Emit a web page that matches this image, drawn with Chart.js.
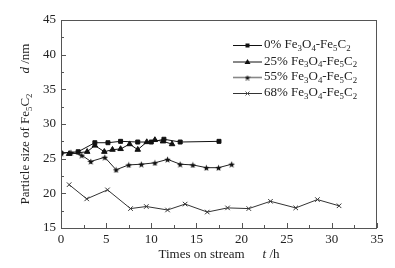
<!DOCTYPE html>
<html lang="en">
  <head>
    <meta charset="UTF-8" />
    <script src="https://cdn.jsdelivr.net/npm/chart.js@4.4.1/dist/chart.umd.min.js"></script>
    <title>Fe5C2 particle size</title>
    <style>
      html,
      body {
        margin: 0;
        padding: 0;
        background: #fff;
      }
      .wrap {
        width: 395px;
        height: 268px;
      }
    </style>
  </head>
  <body>
    <div class="wrap"><canvas id="myChart" width="395" height="268"></canvas></div>
    <script>
      // data
      const t0 = [0, 1.9, 3.75, 5.2, 6.6, 8.5, 10, 11.4, 13.2, 17.5];
      const d0 = [25.8, 26.0, 27.3, 27.3, 27.5, 27.4, 27.4, 27.8, 27.4, 27.5];
      const t25 = [0.9, 2.9, 3.75, 4.8, 5.7, 6.6, 7.6, 8.5, 9.5, 10.4, 11.3, 12.3];
      const d25 = [25.7, 26.0, 26.9, 26.0, 26.3, 26.4, 27.1, 26.3, 27.4, 27.7, 27.5, 27.1];
      const t55 = [0, 1.1, 2.3, 3.3, 4.85, 6.1, 7.5, 8.9, 10.4, 11.8, 13.2, 14.6, 16.1, 17.45, 18.9];
      const d55 = [25.8, 25.9, 25.5, 24.6, 25.2, 23.4, 24.1, 24.2, 24.4, 24.9, 24.2, 24.1, 23.7, 23.7, 24.2];
      const t68 = [0.9, 2.85, 5.15, 7.7, 9.45, 11.8, 13.75, 16.2, 18.45, 20.8, 23.2, 26.0, 28.4, 30.8];
      const d68 = [21.25, 19.2, 20.5, 17.8, 18.1, 17.6, 18.45, 17.3, 17.9, 17.8, 18.85, 17.9, 19.1, 18.2];
      const shares = ["0%", "25%", "55%", "68%"];
      const xTicks = [0, 5, 10, 15, 20, 25, 30, 35];
      const yTicks = [15, 20, 25, 30, 35, 40, 45];

      const SERIF = "'Liberation Serif', 'Times New Roman', serif";

      function pts(ts, ds) {
        return ts.map((t, i) => ({ x: t, y: ds[i] }));
      }

      // filled five point star for the 55% series
      function starImg(size, color) {
        const c = document.createElement("canvas");
        c.width = size;
        c.height = size;
        const g = c.getContext("2d");
        const r = size / 2, ri = r * 0.42;
        g.beginPath();
        for (let i = 0; i < 10; i++) {
          const rr = i % 2 ? ri : r;
          const a = -Math.PI / 2 + (i * Math.PI) / 5;
          g.lineTo(r + rr * Math.cos(a), r + 0.5 + rr * Math.sin(a));
        }
        g.closePath();
        g.fillStyle = color;
        g.fill();
        return c;
      }
      const star = starImg(7, "#111");
      const starSmall = starImg(6, "#111");

      const series = [
        { data: pts(t0, d0), color: "#111", point: "rect", r: 2.8 },
        { data: pts(t25, d25), color: "#111", point: "triangle", r: 3.2 },
        { data: pts(t55, d55), color: "#222", point: star, r: 3.5 },
        { data: pts(t68, d68), color: "#333", point: "crossRot", r: 3.2 },
      ];

      // text with subscripts / italics, drawn left to right from x
      function richWidth(ctx, parts, size) {
        let w = 0;
        parts.forEach((p) => {
          if (p.gap) { w += p.gap; return; }
          ctx.font = (p.it ? "italic " : "") + (p.sub ? size * 0.68 : size) + "px " + SERIF;
          w += ctx.measureText(p.t).width;
        });
        return w;
      }
      function drawRich(ctx, x, y, parts, size) {
        parts.forEach((p) => {
          if (p.gap) { x += p.gap; return; }
          ctx.font = (p.it ? "italic " : "") + (p.sub ? size * 0.68 : size) + "px " + SERIF;
          ctx.fillText(p.t, x, p.sub ? y + size * 0.28 : y);
          x += ctx.measureText(p.t).width;
        });
      }
      function feLabel(share) {
        return [
          { t: share + " Fe" }, { t: "3", sub: 1 }, { t: "O" }, { t: "4", sub: 1 },
          { t: "-Fe" }, { t: "5", sub: 1 }, { t: "C" }, { t: "2", sub: 1 },
        ];
      }

      const decor = {
        id: "decor",
        afterDraw(chart) {
          const { ctx, chartArea: a, scales } = chart;
          ctx.save();
          // frame
          ctx.strokeStyle = "#555";
          ctx.lineWidth = 1;
          ctx.strokeRect(a.left + 0.5, a.top + 0.5, a.right - a.left - 1, a.bottom - a.top);
          // inward ticks, major and minor
          ctx.beginPath();
          for (let v = 0; v <= 35; v += 2.5) {
            const px = Math.round(scales.x.getPixelForValue(v)) + 0.5;
            const len = v % 5 === 0 ? 5 : 3;
            ctx.moveTo(px, a.bottom);
            ctx.lineTo(px, a.bottom - len);
          }
          for (let v = 15; v <= 45; v += 2.5) {
            const py = Math.round(scales.y.getPixelForValue(v)) + 0.5;
            const len = v % 5 === 0 ? 5 : 3;
            ctx.moveTo(a.left, py);
            ctx.lineTo(a.left + len, py);
          }
          ctx.stroke();

          ctx.fillStyle = "#222";
          ctx.textBaseline = "middle";
          // x title
          const xt = [{ t: "Times on stream" }, { gap: 18 }, { t: "t", it: 1 }, { t: " /h" }];
          const xw = richWidth(ctx, xt, 13);
          drawRich(ctx, (a.left + a.right) / 2 - xw / 2, 255, xt, 13);
          // y title
          const yt = [
            { t: "Particle size of Fe" }, { t: "5", sub: 1 }, { t: "C" }, { t: "2", sub: 1 },
            { gap: 20 }, { t: "d", it: 1 }, { t: " /nm" },
          ];
          const yw = richWidth(ctx, yt, 13);
          ctx.save();
          ctx.translate(26, (a.top + a.bottom) / 2);
          ctx.rotate(-Math.PI / 2);
          drawRich(ctx, -yw / 2, 0, yt, 13);
          ctx.restore();

          // legend: line with marker, then label
          const rows = [45, 61.5, 77, 93];
          series.forEach((s, i) => {
            const y = rows[i] + 0.5;
            const cx = 247.5;
            ctx.strokeStyle = i === 2 ? "#888" : s.color;
            ctx.lineWidth = i === 2 ? 1.6 : 1;
            ctx.beginPath();
            ctx.moveTo(233, y);
            ctx.lineTo(262, y);
            ctx.stroke();
            ctx.fillStyle = "#111";
            ctx.strokeStyle = "#555";
            ctx.lineWidth = 1;
            if (i === 0) {
              ctx.fillRect(cx - 2, y - 2, 4, 4);
            } else if (i === 1) {
              ctx.beginPath();
              ctx.moveTo(cx, y - 3);
              ctx.lineTo(cx + 3, y + 2);
              ctx.lineTo(cx - 3, y + 2);
              ctx.closePath();
              ctx.fill();
            } else if (i === 2) {
              ctx.drawImage(starSmall, cx - 3, y - 3);
            } else {
              ctx.beginPath();
              ctx.moveTo(cx - 2, y - 2);
              ctx.lineTo(cx + 2, y + 2);
              ctx.moveTo(cx + 2, y - 2);
              ctx.lineTo(cx - 2, y + 2);
              ctx.stroke();
            }
            ctx.fillStyle = "#222";
            drawRich(ctx, 264, rows[i], feLabel(shares[i]), 13);
          });
          ctx.restore();
        },
      };

      const ctx = document.getElementById("myChart");
      new Chart(ctx, {
        type: "scatter",
        data: {
          datasets: series.map((s, i) => ({
            label: shares[i],
            data: s.data,
            showLine: true,
            borderColor: s.color,
            backgroundColor: s.color,
            borderWidth: 1,
            pointStyle: s.point,
            pointRadius: s.r,
            pointBorderWidth: 1,
          })),
        },
        plugins: [decor],
        options: {
          responsive: false,
          animation: false,
          layout: { padding: { left: 0, top: 20, right: 18, bottom: 0 } },
          plugins: { legend: { display: false }, tooltip: { enabled: false } },
          scales: {
            x: {
              type: "linear",
              min: 0,
              max: 35,
              afterFit: (s) => { s.height = 40; },
              afterBuildTicks: (s) => { s.ticks = xTicks.map((v) => ({ value: v })); },
              grid: { display: false, drawTicks: false },
              border: { display: false },
              ticks: { padding: 4, color: "#222", font: { family: SERIF, size: 13 } },
            },
            y: {
              type: "linear",
              min: 15,
              max: 45,
              afterFit: (s) => { s.width = 61; },
              afterBuildTicks: (s) => { s.ticks = yTicks.map((v) => ({ value: v })); },
              grid: { display: false, drawTicks: false },
              border: { display: false },
              ticks: { padding: 5, color: "#222", font: { family: SERIF, size: 13 } },
            },
          },
        },
      });
    </script>
  </body>
</html>
